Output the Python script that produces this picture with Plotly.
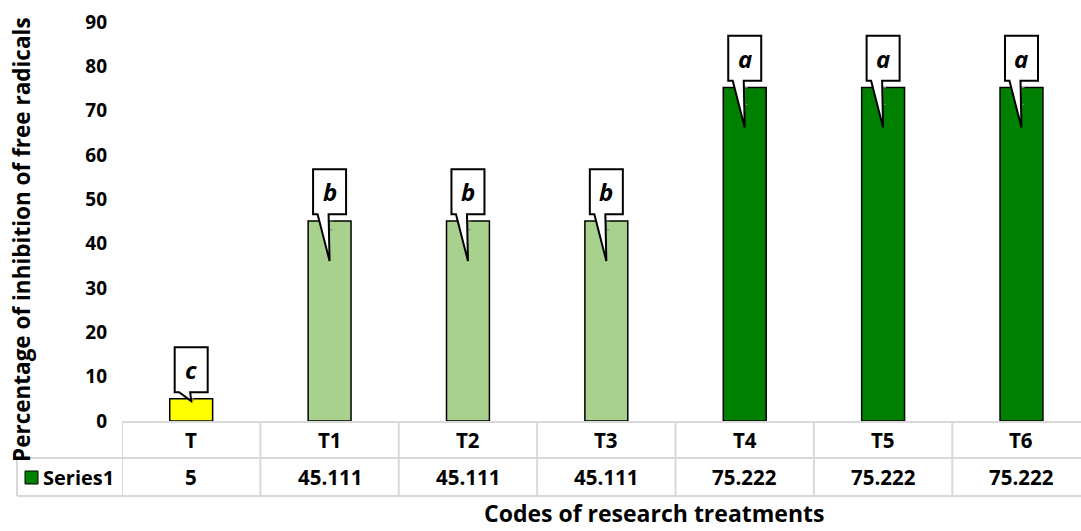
import plotly.graph_objects as go

categories = ["T", "T1", "T2", "T3", "T4", "T5", "T6"]
values = [5, 45.111, 45.111, 45.111, 75.222, 75.222, 75.222]
value_labels = ["5", "45.111", "45.111", "45.111", "75.222", "75.222", "75.222"]
letters = ["c", "b", "b", "b", "a", "a", "a"]
error_minus = [0.3, 2, 2, 2, 3.8, 3.8, 3.8]
tail_drop = [0.5, 9, 9, 9, 9, 9, 9]
colors = ["#FFFF00", "#A9D18E", "#A9D18E", "#A9D18E", "#008000", "#008000", "#008000"]
series_name = "Series1"

FONT = "Open Sans"
W, H = 1081, 531
ML, MR, MT, MB = 122, 0, 22, 110
PW = W - ML - MR
PH = H - MT - MB
XMIN, XMAX = -0.5, 6.43
YMAX = 90
xu = (XMAX - XMIN) / PW   # data units per px
yu = YMAX / PH

fig = go.Figure()
fig.add_trace(go.Bar(
    x=list(range(len(categories))), y=values, width=0.31,
    marker=dict(color=colors, line=dict(color="black", width=1.5)),
    error_y=dict(type="data", symmetric=False, array=[0] * 7, arrayminus=error_minus,
                 color="#7F7F7F", thickness=1, width=3),
    showlegend=False, hoverinfo="skip",
))

shapes = []
annotations = []

# callouts
for i, (v, L, td) in enumerate(zip(values, letters, tail_drop)):
    bw = 16.5 * xu
    bot = v + 1.5
    top = bot + 45 * yu
    tip = v - td
    path = (f"M {i-bw},{top} L {i+bw},{top} L {i+bw},{bot} L {i-1*xu},{bot} "
            f"L {i},{tip} L {i-12*xu},{bot} L {i-bw},{bot} Z")
    shapes.append(dict(type="path", path=path, xref="x", yref="y",
                       fillcolor="white", line=dict(color="black", width=2), layer="above"))
    annotations.append(dict(x=i, y=(top + bot) / 2, xref="x", yref="y", text=f"<b><i>{L}</i></b>",
                            xanchor="center", yanchor="middle",
                            showarrow=False, font=dict(family=FONT, size=24, color="black")))

# data table
grid = "#D9D9D9"
def px_x(p):
    return (p - ML) / PW
def px_y(p):
    return (H - MB - p) / PH

row_top, row_mid, row_bot = 422, 458, 496
left_key = 17
right_px = W + 20
shapes.append(dict(type="line", xref="paper", yref="paper", x0=px_x(ML), x1=px_x(right_px),
                   y0=px_y(row_top), y1=px_y(row_top), line=dict(color=grid, width=2)))
for yy in (row_mid, row_bot):
    shapes.append(dict(type="line", xref="paper", yref="paper", x0=px_x(left_key), x1=px_x(right_px),
                       y0=px_y(yy), y1=px_y(yy), line=dict(color=grid, width=2)))
shapes.append(dict(type="line", xref="paper", yref="paper", x0=px_x(left_key), x1=px_x(left_key),
                   y0=px_y(row_mid), y1=px_y(row_bot), line=dict(color=grid, width=2)))
for k in range(len(categories)):
    xb = k - 0.5
    shapes.append(dict(type="line", xref="x", yref="paper", x0=xb, x1=xb,
                       y0=px_y(row_top), y1=px_y(row_bot), line=dict(color=grid, width=2)))

TF = 20.5
for i, (c, vl) in enumerate(zip(categories, value_labels)):
    annotations.append(dict(x=i, y=px_y((row_top + row_mid) / 2), xref="x", yref="paper",
                            xanchor="center", yanchor="middle",
                            text=f"<b>{c}</b>", showarrow=False,
                            font=dict(family=FONT, size=TF, color="black")))
    annotations.append(dict(x=i, y=px_y((row_mid + row_bot) / 2), xref="x", yref="paper",
                            xanchor="center", yanchor="middle",
                            text=f"<b>{vl}</b>", showarrow=False,
                            font=dict(family=FONT, size=TF, color="black")))

# legend key
shapes.append(dict(type="rect", xref="paper", yref="paper", x0=px_x(25), x1=px_x(38),
                   y0=px_y(484), y1=px_y(471), fillcolor="#008000", line=dict(color="black", width=1)))
annotations.append(dict(x=px_x(41), y=px_y(477), xref="paper", yref="paper",
                        xanchor="left", yanchor="middle",
                        text=f"<b>{series_name}</b>", showarrow=False,
                        font=dict(family=FONT, size=20, color="black")))

# axis titles
annotations.append(dict(x=px_x(654), y=px_y(513), xref="paper", yref="paper",
                        xanchor="center", yanchor="middle",
                        text="<b>Codes of research treatments</b>", showarrow=False,
                        font=dict(family=FONT, size=23, color="black")))
annotations.append(dict(x=px_x(21), y=px_y(240), xref="paper", yref="paper", textangle=-90,
                        xanchor="center", yanchor="middle",
                        text="<b>Percentage of inhibition of free radicals</b>", showarrow=False,
                        font=dict(family=FONT, size=22.5, color="black")))

fig.update_layout(
    width=W, height=H,
    margin=dict(l=ML, r=MR, t=MT, b=MB),
    plot_bgcolor="white", paper_bgcolor="white",
    shapes=shapes, annotations=annotations,
    xaxis=dict(range=[XMIN, XMAX], showticklabels=False, showgrid=False, zeroline=False,
               showline=False, ticks=""),
    yaxis=dict(range=[0, YMAX], showgrid=False, zeroline=False, showline=False,
               ticks="", ticklabelstandoff=14,
               tickvals=list(range(0, 91, 10)),
               ticktext=[f"<b>{t}</b>" for t in range(0, 91, 10)],
               tickfont=dict(family=FONT, size=19, color="black")),
)

fig.write_html("out.html", config={"displayModeBar": False},
               post_script="document.body.style.margin='0';document.body.style.overflow='hidden';")
